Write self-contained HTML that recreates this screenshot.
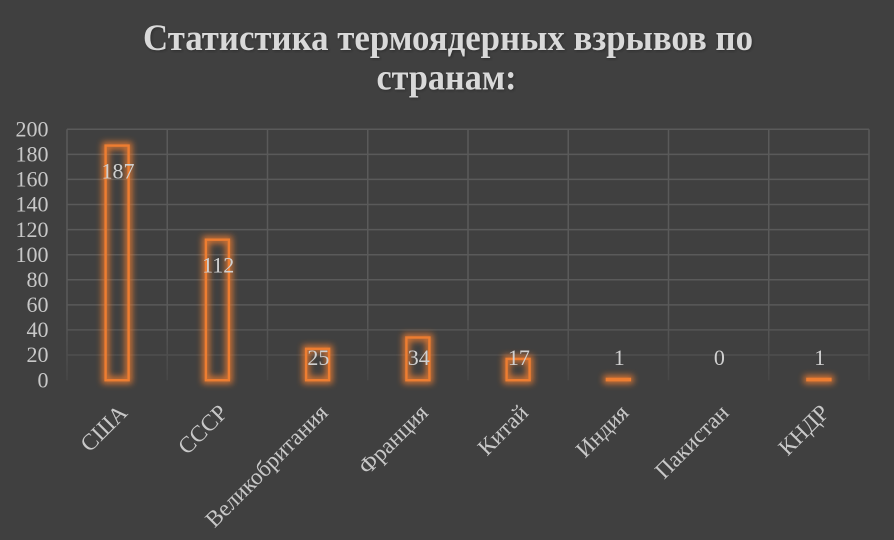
<!DOCTYPE html>
<html>
<head>
<meta charset="utf-8">
<style>
  html,body{margin:0;padding:0;background:#404040;}
  svg{display:block;}
  text{font-family:"Liberation Serif","DejaVu Serif",serif;}
</style>
</head>
<body>
<svg width="894" height="540" viewBox="0 0 894 540" xmlns="http://www.w3.org/2000/svg">
  <defs>
    <filter id="glow" x="-60%" y="-20%" width="220%" height="140%">
      <feGaussianBlur stdDeviation="3.2"/>
    </filter>
    <filter id="tshadow" x="-5%" y="-20%" width="110%" height="140%">
      <feGaussianBlur stdDeviation="1"/>
    </filter>
    <linearGradient id="fade" x1="0" y1="0" x2="0" y2="1">
      <stop offset="0" stop-color="#404040" stop-opacity="0"/>
      <stop offset="1" stop-color="#404040" stop-opacity="0.75"/>
    </linearGradient>
  </defs>
  <rect width="894" height="540" fill="#404040"/>

  <!-- Title -->
  <g font-weight="bold" font-size="37" text-anchor="middle">
    <text x="449" y="51" fill="#222" opacity="0.6" filter="url(#tshadow)" textLength="610" lengthAdjust="spacingAndGlyphs">Статистика термоядерных взрывов по</text>
    <text x="448" y="50" fill="#d9d9d9" textLength="610" lengthAdjust="spacingAndGlyphs">Статистика термоядерных взрывов по</text>
    <text x="447.5" y="90.3" fill="#222" opacity="0.6" filter="url(#tshadow)" textLength="140" lengthAdjust="spacingAndGlyphs">странам:</text>
    <text x="446.5" y="89.3" fill="#d9d9d9" textLength="140" lengthAdjust="spacingAndGlyphs">странам:</text>
  </g>

  <!-- Gridlines -->
  <g stroke="#5a5a5a" stroke-width="1.5" fill="none">
    <line x1="67" y1="129.3" x2="869" y2="129.3"/>
    <line x1="67" y1="154.4" x2="869" y2="154.4"/>
    <line x1="67" y1="179.4" x2="869" y2="179.4"/>
    <line x1="67" y1="204.5" x2="869" y2="204.5"/>
    <line x1="67" y1="229.6" x2="869" y2="229.6"/>
    <line x1="67" y1="254.7" x2="869" y2="254.7"/>
    <line x1="67" y1="279.8" x2="869" y2="279.8"/>
    <line x1="67" y1="304.9" x2="869" y2="304.9"/>
    <line x1="67" y1="329.9" x2="869" y2="329.9"/>
    <line x1="67" y1="355.0" x2="869" y2="355.0"/>

    <line x1="67" y1="129.3" x2="67" y2="380.2"/>
    <line x1="167.25" y1="129.3" x2="167.25" y2="380.2"/>
    <line x1="267.5" y1="129.3" x2="267.5" y2="380.2"/>
    <line x1="367.75" y1="129.3" x2="367.75" y2="380.2"/>
    <line x1="468" y1="129.3" x2="468" y2="380.2"/>
    <line x1="568.25" y1="129.3" x2="568.25" y2="380.2"/>
    <line x1="668.5" y1="129.3" x2="668.5" y2="380.2"/>
    <line x1="768.75" y1="129.3" x2="768.75" y2="380.2"/>
    <line x1="869" y1="129.3" x2="869" y2="380.2"/>
  </g>
  <rect x="60" y="310" width="815" height="75" fill="url(#fade)"/>

  <!-- Y axis labels -->
  <g font-size="22" fill="#c8c8c8" text-anchor="end">
    <text x="48.5" y="136.5">200</text>
    <text x="48.5" y="161.6">180</text>
    <text x="48.5" y="186.6">160</text>
    <text x="48.5" y="211.7">140</text>
    <text x="48.5" y="236.8">120</text>
    <text x="48.5" y="261.9">100</text>
    <text x="48.5" y="287.0">80</text>
    <text x="48.5" y="312.1">60</text>
    <text x="48.5" y="337.1">40</text>
    <text x="48.5" y="362.2">20</text>
    <text x="48.5" y="387.3">0</text>
  </g>

  <!-- Bars glow -->
  <g stroke="#ED7D31" stroke-width="7" fill="none" opacity="0.85" filter="url(#glow)">
    <rect x="105.6" y="145.6" width="23" height="234.6"/>
    <rect x="205.9" y="239.7" width="23" height="140.5"/>
    <rect x="306.1" y="348.8" width="23" height="31.4"/>
    <rect x="406.4" y="337.5" width="23" height="42.7"/>
    <rect x="506.6" y="358.9" width="23" height="21.3"/>
    <rect x="606.9" y="378.9" width="23" height="1.3"/>
    <rect x="807.4" y="378.9" width="23" height="1.3"/>
  </g>
  <!-- Bars -->
  <g stroke="#ED7D31" stroke-width="2.4" fill="none">
    <rect x="105.6" y="145.6" width="23" height="234.6"/>
    <rect x="205.9" y="239.7" width="23" height="140.5"/>
    <rect x="306.1" y="348.8" width="23" height="31.4"/>
    <rect x="406.4" y="337.5" width="23" height="42.7"/>
    <rect x="506.6" y="358.9" width="23" height="21.3"/>
    <rect x="606.9" y="378.9" width="23" height="1.3" fill="#ED7D31"/>
    <rect x="807.4" y="378.9" width="23" height="1.3" fill="#ED7D31"/>
  </g>

  <!-- Data labels -->
  <g font-size="22" fill="#d0d0d0" text-anchor="middle">
    <text x="118" y="178.3">187</text>
    <text x="218.2" y="272.7">112</text>
    <text x="318.4" y="365">25</text>
    <text x="418.7" y="365">34</text>
    <text x="518.9" y="365">17</text>
    <text x="619.2" y="365">1</text>
    <text x="719.4" y="365">0</text>
    <text x="819.7" y="365">1</text>
  </g>

  <!-- X axis labels -->
  <g font-size="23" fill="#c8c8c8" text-anchor="end">
    <text transform="translate(128.6,414) rotate(-45)">США</text>
    <text transform="translate(228.9,414) rotate(-45)">СССР</text>
    <text transform="translate(329.1,414) rotate(-45)">Великобритания</text>
    <text transform="translate(429.4,414) rotate(-45)">Франция</text>
    <text transform="translate(529.6,414) rotate(-45)">Китай</text>
    <text transform="translate(629.9,414) rotate(-45)">Индия</text>
    <text transform="translate(730.1,414) rotate(-45)">Пакистан</text>
    <text transform="translate(830.4,414) rotate(-45)">КНДР</text>
  </g>
</svg>
</body>
</html>
